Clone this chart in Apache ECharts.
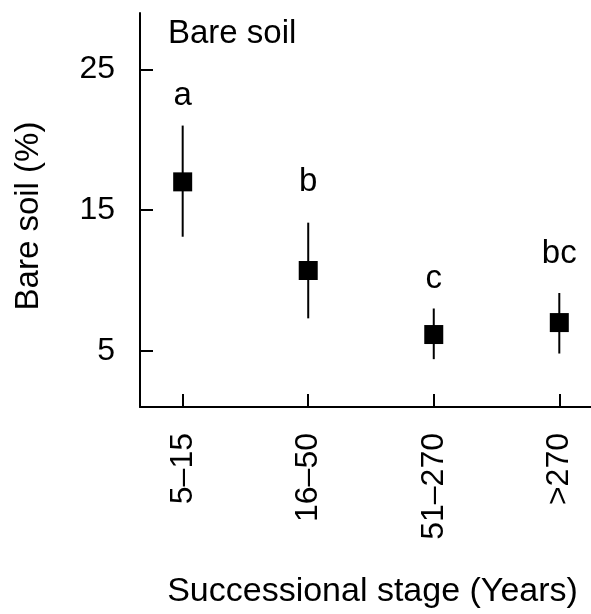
<!DOCTYPE html>
<html>
<head>
<meta charset="utf-8">
<script src="https://cdn.jsdelivr.net/npm/echarts@6/dist/echarts.min.js"></script>
<style>
html,body{margin:0;padding:0;background:#fff;}
#chart{width:591px;height:614px;}
</style>
</head>
<body>
<div id="chart"></div>
<script>
// Data
const categories = ['5\u201315', '16\u201350', '51\u2013270', '>270'];
const means = [17.0, 10.7, 6.15, 7.0];
const upper = [21.0, 14.1, 8.0, 9.1];
const lower = [13.1, 7.3, 4.4, 4.8];
const letters = ['a', 'b', 'c', 'bc'];
const letterY = [23.1, 17.0, 10.1, 11.9];
const yTicks = [5, 15, 25];
const xPositions = [1, 2, 3, 4];

const FONT = '"Liberation Sans", Arial, Helvetica, sans-serif';

const chart = echarts.init(document.getElementById('chart'), null, {renderer: 'canvas'});

const meanData = means.map((v, i) => [xPositions[i], v]);
const errData = means.map((v, i) => [xPositions[i], lower[i], upper[i]]);
const letterData = letters.map((l, i) => ({value: [xPositions[i], letterY[i]], name: l}));

const option = {
  animation: false,
  backgroundColor: '#fff',
  grid: {left: 140, right: 0, top: 13, bottom: 207, containLabel: false},
  xAxis: {
    type: 'value',
    min: 0.66,
    max: 4.2525,
    axisLine: {show: true, onZero: false, lineStyle: {color: '#000', width: 2}},
    axisTick: {show: true, inside: true, length: 13, customValues: xPositions, lineStyle: {color: '#000', width: 2}},
    axisLabel: {
      show: true,
      customValues: xPositions,
      rotate: 90,
      margin: 26,
      color: '#000',
      fontSize: 32,
      fontFamily: FONT,
      formatter: function (v) { return categories[Math.round(v) - 1] || ''; }
    },
    splitLine: {show: false}
  },
  yAxis: {
    type: 'value',
    min: 1,
    max: 29,
    axisLine: {show: true, onZero: false, lineStyle: {color: '#000', width: 2}},
    axisTick: {show: true, inside: true, length: 13, customValues: yTicks, lineStyle: {color: '#000', width: 2}},
    axisLabel: {show: true, customValues: yTicks, margin: 25, color: '#000', fontSize: 32, fontFamily: FONT},
    splitLine: {show: false}
  },
  series: [
    {
      type: 'custom',
      data: errData,
      renderItem: function (params, api) {
        const x = api.value(0);
        const p1 = api.coord([x, api.value(1)]);
        const p2 = api.coord([x, api.value(2)]);
        return {
          type: 'line',
          shape: {x1: p1[0], y1: p1[1], x2: p2[0], y2: p2[1]},
          style: {stroke: '#000', lineWidth: 2}
        };
      },
      z: 2
    },
    {
      type: 'scatter',
      data: meanData,
      symbol: 'rect',
      symbolSize: 19,
      itemStyle: {color: '#000', opacity: 1},
      z: 3
    },
    {
      type: 'scatter',
      data: letterData,
      symbolSize: 0,
      itemStyle: {color: '#000', opacity: 1},
      label: {
        show: true,
        position: 'inside',
        formatter: function (p) { return p.name; },
        color: '#000',
        opacity: 1,
        fontSize: 33,
        fontFamily: FONT
      },
      z: 4
    }
  ],
  graphic: [
    {
      type: 'text',
      left: 168,
      top: 34.3 - 16.5,
      style: {text: 'Bare soil', fill: '#000', font: '33px ' + FONT}
    },
    {
      type: 'text',
      x: 372.5,
      y: 591.5,
      style: {text: 'Successional stage (Years)', fill: '#000', font: '34px ' + FONT, align: 'center', verticalAlign: 'middle'}
    },
    {
      type: 'text',
      x: 28.6,
      y: 216,
      rotation: Math.PI / 2,
      style: {text: 'Bare soil (%)', fill: '#000', font: '33px ' + FONT, align: 'center', verticalAlign: 'middle'}
    }
  ]
};

chart.setOption(option);
</script>
</body>
</html>
